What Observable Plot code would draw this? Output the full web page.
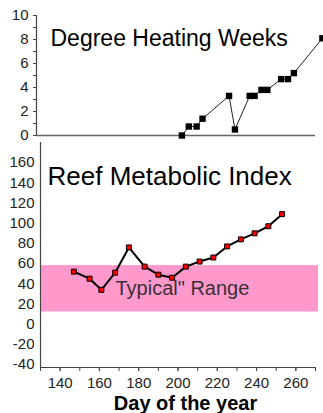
<!DOCTYPE html>
<html>
<head>
<meta charset="utf-8">
<script src="https://cdn.jsdelivr.net/npm/d3@7"></script>
<script src="https://cdn.jsdelivr.net/npm/@observablehq/plot@0.6"></script>
<style>
  html, body { margin: 0; padding: 0; background: #fff; }
  #chart svg { display: block; }
</style>
</head>
<body>
<div id="chart"></div>
<script>
// Degree Heating Weeks (top panel)
const dhwDays   = [202, 205.5, 209.5, 212.5, 226, 229, 236.5, 239, 242.5, 245.5, 252.5, 256, 259, 273.5];
const dhwValues = [0, 0.75, 0.75, 1.4, 3.3, 0.5, 3.3, 3.3, 3.8, 3.8, 4.7, 4.7, 5.2, 8.1];
const dhwTicks  = [0, 2, 4, 6, 8, 10];
const dhwMinor  = [0, 1, 2, 3, 4, 5, 6, 7, 8, 9, 10];

// Reef Metabolic Index (bottom panel)
const rmiDays   = [147, 155, 161, 168, 175, 183, 190, 197, 204, 211, 218, 225, 232, 239, 246, 253];
const rmiValues = [52, 45, 34, 51, 76, 57, 49, 46, 57, 62, 66, 77, 84, 90, 97, 109];
const rmiTicks  = [-40, -20, 0, 20, 40, 60, 80, 100, 120, 140, 160];
const dayTicks  = [140, 160, 180, 200, 220, 240, 260];
const dayMinor  = [130, 140, 150, 160, 170, 180, 190, 200, 210, 220, 230, 240, 250, 260, 270];

// "Typical" range band
const typicalLow = 12;
const typicalHigh = 58;

const topTitle = "Degree Heating Weeks";
const bottomTitle = "Reef Metabolic Index";
const bandLabel = "Typical\" Range";
const xLabel = "Day of the year";

const dhw = dhwDays.map((d, i) => ({day: d, value: dhwValues[i]}));
const rmi = rmiDays.map((d, i) => ({day: d, value: rmiValues[i]}));

const font = "'Liberation Sans', Arial, sans-serif";
const axisColor = "#444";

const topDomainX = [128, 270];
const topChart = Plot.plot({
  width: 323,
  height: 140,
  marginLeft: 36,
  marginRight: 8,
  marginTop: 15,
  marginBottom: 5,
  style: {fontFamily: font, fontSize: "15px", color: "#222", background: "#fff", overflow: "visible"},
  x: {domain: topDomainX, axis: null},
  y: {domain: [0, 10], axis: null},
  marks: [
    Plot.axisY({ticks: dhwMinor, tickSize: 3, tickFormat: () => "", stroke: axisColor, label: null}),
    Plot.axisY({ticks: dhwTicks, tickSize: 3, tickPadding: 5, stroke: axisColor, label: null}),
    Plot.ruleX([topDomainX[0]], {stroke: axisColor, strokeWidth: 1.2}),
    Plot.ruleY([0], {stroke: "#666", strokeWidth: 1.5}),
    Plot.line(dhw, {x: "day", y: "value", stroke: "#222", strokeWidth: 1}),
    Plot.dot(dhw, {x: "day", y: "value", symbol: "square", r: 3.6, fill: "#000", stroke: "none"}),
    Plot.text([topTitle], {frameAnchor: "top-left", text: d => d, textAnchor: "start", lineAnchor: "top", dx: 14, dy: 14, fontSize: 23, fill: "#000"})
  ]
});

const bottomDomainY = [-43, 180];
const bottomDomainX = [130, 270];
const bottomChart = Plot.plot({
  width: 323,
  height: 273,
  marginLeft: 40,
  marginRight: 8,
  marginTop: 2,
  marginBottom: 46,
  style: {fontFamily: font, fontSize: "15px", color: "#222", background: "#fff", overflow: "visible"},
  x: {domain: bottomDomainX, axis: null},
  y: {domain: bottomDomainY, axis: null},
  marks: [
    Plot.rect([0], {y1: () => typicalLow, y2: () => typicalHigh, fill: "#ff99cc", insetRight: -3}),
    Plot.text([bandLabel], {y: () => (typicalLow + typicalHigh) / 2, frameAnchor: "left", text: d => d, textAnchor: "start", lineAnchor: "middle", dx: 75, fontSize: 20, fill: "#3a3038"}),
    Plot.axisY({ticks: rmiTicks, tickSize: 0, tickPadding: 6, label: null, tickFormat: d => d < 0 ? "-" + Math.abs(d) : String(d)}),
    Plot.axisX({ticks: dayMinor, tickSize: 4, tickFormat: () => "", stroke: axisColor, label: null}),
    Plot.axisX({ticks: dayTicks, tickSize: 4, tickPadding: 6, stroke: axisColor, label: null}),
    Plot.ruleX([bottomDomainX[0]], {stroke: axisColor, strokeWidth: 1.2}),
    Plot.ruleY([bottomDomainY[0]], {stroke: axisColor, strokeWidth: 1.2}),
    Plot.line(rmi, {x: "day", y: "value", stroke: "#000", strokeWidth: 2}),
    Plot.dot(rmi, {x: "day", y: "value", symbol: "square", r: 2.8, fill: "#ff0000", stroke: "#000", strokeWidth: 1}),
    Plot.text([bottomTitle], {frameAnchor: "top-left", text: d => d, textAnchor: "start", lineAnchor: "top", dx: 7, dy: 24, fontSize: 26, fill: "#000"}),
    Plot.text([xLabel], {frameAnchor: "bottom", text: d => d, textAnchor: "middle", lineAnchor: "bottom", dx: 7.5, dy: 42.5, fontSize: 20, fontWeight: "bold", fill: "#000"})
  ]
});

const chart = document.getElementById("chart");
chart.appendChild(topChart);
chart.appendChild(bottomChart);
</script>
</body>
</html>
